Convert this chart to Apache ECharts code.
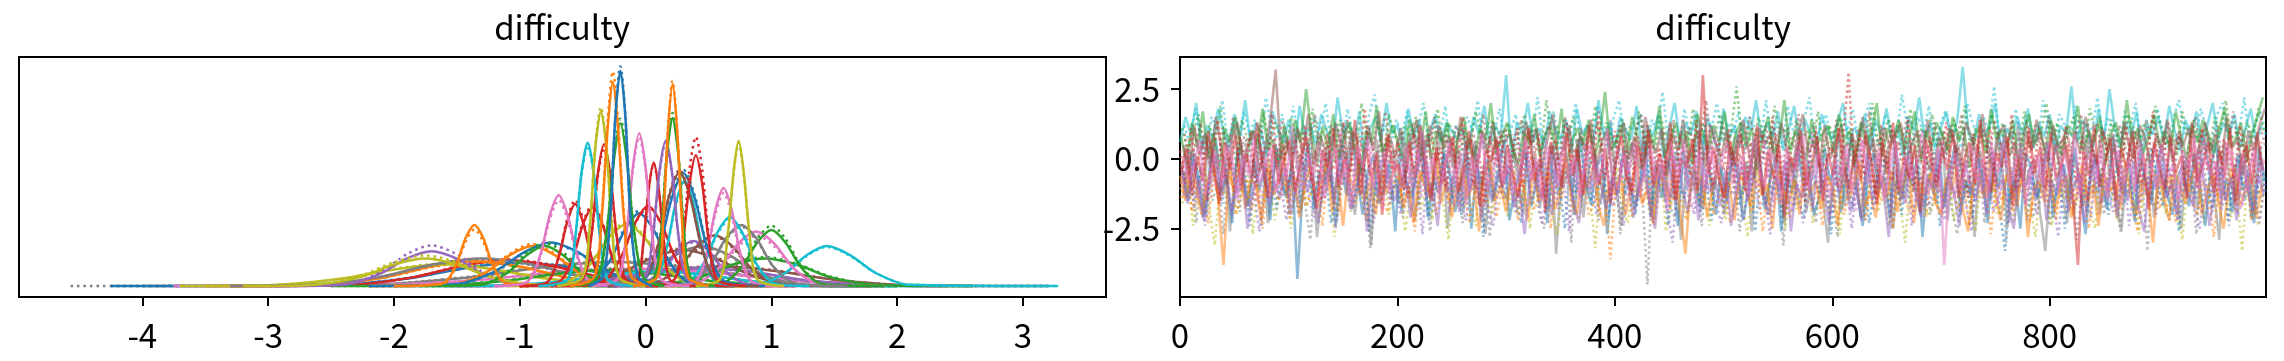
<!DOCTYPE html>
<html><head><meta charset="utf-8">
<script src="https://cdn.jsdelivr.net/npm/echarts@6/dist/echarts.min.js"></script>
<style>html,body{margin:0;padding:0;background:#fff}#c{width:2284px;height:361px}</style>
</head><body><div id="c"></div>
<script>
const panelTitle = 'difficulty';
const kdeTicks = [-4, -3, -2, -1, 0, 1, 2, 3];
const traceXTicks = [0, 200, 400, 600, 800];
const traceYTicks = [-2.5, 0, 2.5];
const palette = ['#1f77b4','#ff7f0e','#2ca02c','#d62728','#9467bd','#8c564b','#e377c2','#7f7f7f','#bcbd22','#17becf'];

// ---- left panel: per-coordinate KDE curves (x points, chain 0 solid, chain 1 dotted) ----
const kdeColor = [7,0,6,5,3,1,8,7,2,4,9, 5,7,4,8,1,0,2,2,9,4,5,6,2,7,9,8,0,3,1, 3,3,6,6,9,0,5,3,3,3,4,6,9,8,8,2,2,1,1,0];
const kdeX = [
[-4.57,-4.0,-2.25,-1.45,-0.81,-0.25,0.31,0.95,1.75,2.6],
[-4.25,-2.5,-1.9,-1.42,-1.0,-0.58,-0.1,0.5,2.0],
[-3.75,-2.225,-1.375,-0.695,-0.1,0.495,1.175,2.025,2.35],
[-1.6,-0.9,-0.3,0.18,0.6,1.02,1.5,2.1,3.2],
[-3.3,-2.35,-1.85,-1.45,-1.1,-0.75,-0.35,0.15,1.2],
[-3.5,-2.6,-2.1,-1.7,-1.35,-1.0,-0.6,-0.1,1.0],
[-3.7,-2.975,-2.425,-1.985,-1.6,-1.215,-0.775,-0.225,0.8],
[-3.3,-2.675,-2.125,-1.685,-1.3,-0.915,-0.475,0.075,1.0],
[-2.5,-1.675,-1.125,-0.685,-0.3,0.085,0.525,1.075,2.0],
[-1.5,-0.925,-0.375,0.065,0.45,0.835,1.275,1.825,2.4],
[-2.0,-1.15,-0.65,-0.25,0.1,0.45,0.85,1.35,2.2],
[-1.0,-0.575,-0.225,0.055,0.3,0.545,0.825,1.175,1.8],
[-0.6,-0.3,0.0,0.24,0.45,0.66,0.9,1.2,1.8],
[-3.0,-2.40,-2.12,-1.896,-1.70,-1.504,-1.28,-1.00,-0.6],
[-3.2,-2.625,-2.275,-1.995,-1.75,-1.505,-1.225,-0.875,-0.3],
[-2.2,-1.525,-1.275,-1.075,-0.9,-0.725,-0.525,-0.275,0.3],
[-2.2,-1.5,-1.2,-0.96,-0.75,-0.54,-0.3,0.0,0.6],
[-1.8,-1.3,-1.1,-0.94,-0.8,-0.66,-0.5,-0.3,0.2],
[-0.5,0.075,0.425,0.705,0.95,1.195,1.475,1.825,2.6],
[0.4,0.89,1.11,1.286,1.44,1.622,1.83,2.09,3.28],
[-0.4,-0.045,0.125,0.261,0.38,0.499,0.635,0.805,1.2],
[-0.3,0.05,0.25,0.41,0.55,0.69,0.85,1.05,1.5],
[-0.1,0.38,0.58,0.74,0.88,1.02,1.18,1.38,1.9],
[0.2,0.60,0.76,0.888,1.0,1.112,1.24,1.40,1.9],
[-0.1,0.335,0.505,0.641,0.76,0.879,1.015,1.185,1.6],
[0.0,0.32,0.46,0.572,0.67,0.768,0.88,1.02,1.3],
[-1.1,-0.65,-0.45,-0.29,-0.15,-0.01,0.15,0.35,0.8],
[-0.8,-0.45,-0.29,-0.162,-0.05,0.062,0.19,0.35,0.7],
[-0.7,-0.355,-0.205,-0.085,0.02,0.125,0.245,0.395,0.7],
[-2.0,-1.61,-1.51,-1.43,-1.36,-1.29,-1.21,-1.11,-0.7],
[-1.0,-0.695,-0.585,-0.497,-0.42,-0.343,-0.255,-0.145,0.1],
[-1.0,-0.785,-0.695,-0.623,-0.56,-0.497,-0.425,-0.335,-0.1],
[0.15,0.395,0.485,0.557,0.62,0.683,0.755,0.845,1.1],
[-1.2,-0.94,-0.84,-0.76,-0.69,-0.62,-0.54,-0.44,-0.15],
[-0.2,0.06,0.16,0.24,0.31,0.38,0.46,0.56,0.85],
[-0.3,-0.025,0.105,0.209,0.30,0.391,0.495,0.625,0.95],
[-0.3,-0.03,0.09,0.186,0.27,0.354,0.45,0.57,0.9],
[-0.25,-0.07,-0.02,0.025,0.065,0.105,0.15,0.2,0.4],
[0.0,0.225,0.295,0.35,0.40,0.45,0.505,0.575,0.8],
[-0.75,-0.505,-0.435,-0.38,-0.33,-0.28,-0.225,-0.155,0.05],
[-0.25,-0.015,0.055,0.11,0.16,0.21,0.265,0.335,0.55],
[-0.45,-0.225,-0.155,-0.10,-0.05,0.0,0.055,0.125,0.35],
[-0.85,-0.62,-0.56,-0.51,-0.46,-0.41,-0.36,-0.30,-0.1],
[0.4,0.59,0.65,0.70,0.74,0.78,0.83,0.89,1.1],
[-0.7,-0.505,-0.445,-0.40,-0.355,-0.31,-0.265,-0.205,0.0],
[-0.1,0.065,0.125,0.17,0.215,0.26,0.305,0.365,0.55],
[-0.6,-0.39,-0.31,-0.25,-0.20,-0.15,-0.09,-0.01,0.15],
[-0.1,0.09,0.14,0.18,0.215,0.25,0.29,0.34,0.5],
[-0.6,-0.41,-0.35,-0.30,-0.26,-0.22,-0.17,-0.11,0.05],
[-0.45,-0.34,-0.28,-0.24,-0.20,-0.16,-0.12,-0.06,0.05]
];
const kdeSolid = [
[null,0,0.015,0.11,0.26,0.33,0.26,0.11,0.015,0],
[0,0.014,0.10,0.25,0.32,0.25,0.10,0.014,0],
[0,0.011,0.078,0.19,0.24,0.19,0.078,0.011,0],
[0,0.012,0.088,0.21,0.27,0.21,0.088,0.012,0],
[0,0.016,0.12,0.28,0.36,0.28,0.12,0.016,0],
[0,0.015,0.11,0.27,0.34,0.27,0.11,0.015,0],
[0,0.013,0.10,0.23,0.30,0.23,0.10,0.013,0],
[0,0.017,0.12,0.30,0.38,0.30,0.12,0.017,0],
[0,0.01,0.07,0.17,0.22,0.17,0.07,0.01,0],
[0,0.011,0.08,0.2,0.25,0.2,0.08,0.011,0],
[0,0.009,0.065,0.16,0.2,0.16,0.065,0.009,0],
[0,0.02,0.16,0.39,0.5,0.39,0.16,0.02,0],
[0,0.024,0.18,0.43,0.55,0.43,0.18,0.024,0],
[0,0.02,0.16,0.38,0.48,0.38,0.16,0.02,0],
[0,0.02,0.12,0.30,0.38,0.30,0.12,0.02,0],
[0,0.02,0.18,0.43,0.55,0.43,0.18,0.02,0],
[0,0.03,0.20,0.47,0.60,0.47,0.20,0.03,0],
[0,0.02,0.18,0.43,0.55,0.43,0.18,0.02,0],
[0,0.02,0.12,0.30,0.38,0.30,0.12,0.02,0],
[0,0.02,0.18,0.43,0.55,0.43,0.18,0.02,0],
[0,0.03,0.20,0.49,0.62,0.49,0.20,0.03,0],
[0,0.03,0.23,0.55,0.70,0.55,0.23,0.03,0],
[0,0.03,0.24,0.59,0.75,0.59,0.24,0.03,0],
[0,0.03,0.25,0.60,0.77,0.60,0.25,0.03,0],
[0,0.04,0.27,0.66,0.84,0.66,0.27,0.04,0],
[0,0.04,0.31,0.74,0.95,0.74,0.31,0.04,0],
[0,0.04,0.28,0.67,0.85,0.67,0.28,0.04,0],
[0,0.04,0.33,0.78,1.0,0.78,0.33,0.04,0],
[0,0.05,0.36,0.86,1.10,0.86,0.36,0.05,0],
[0,0.04,0.27,0.66,0.84,0.66,0.27,0.04,0],
[0,0.05,0.35,0.85,1.08,0.85,0.35,0.05,0],
[0,0.05,0.37,0.88,1.13,0.88,0.37,0.05,0],
[0,0.06,0.44,1.06,1.35,1.06,0.44,0.06,0],
[0,0.06,0.41,0.98,1.25,0.98,0.41,0.06,0],
[0,0.06,0.47,1.14,1.45,1.14,0.47,0.06,0],
[0,0.07,0.50,1.21,1.55,1.21,0.50,0.07,0],
[0,0.07,0.51,1.23,1.57,1.23,0.51,0.07,0],
[0,0.07,0.55,1.33,1.70,1.33,0.55,0.07,0],
[0,0.08,0.59,1.41,1.80,1.41,0.59,0.08,0],
[0,0.09,0.63,1.53,1.95,1.53,0.63,0.09,0],
[0,0.09,0.65,1.57,2.0,1.57,0.65,0.09,0],
[0,0.09,0.68,1.64,2.1,1.64,0.68,0.09,0],
[0,0.09,0.64,1.54,1.97,1.54,0.64,0.09,0],
[0,0.09,0.65,1.57,2.0,1.57,0.65,0.09,0],
[0,0.11,0.78,1.88,2.40,1.88,0.78,0.11,0],
[0,0.10,0.75,1.81,2.31,1.81,0.75,0.10,0],
[0,0.10,0.73,1.75,2.24,1.75,0.73,0.10,0],
[0,0.12,0.90,2.18,2.78,2.18,0.90,0.12,0],
[0,0.12,0.91,2.19,2.8,2.19,0.91,0.12,0],
[0,0.13,0.96,2.32,2.96,2.32,0.96,0.13,0]
];
const kdeDotted = [
[0,0.002,0.016,0.12,0.27,0.34,0.27,0.12,0.016,0],
[0,0.015,0.11,0.26,0.33,0.26,0.11,0.015,0],
[0,0.011,0.08,0.2,0.25,0.2,0.08,0.011,0],
[0,0.012,0.09,0.22,0.28,0.22,0.09,0.012,0],
[0,0.016,0.12,0.29,0.37,0.29,0.12,0.016,0],
[0,0.015,0.11,0.26,0.33,0.26,0.11,0.015,0],
[0,0.014,0.10,0.24,0.31,0.24,0.10,0.014,0],
[0,0.017,0.12,0.29,0.37,0.29,0.12,0.017,0],
[0,0.01,0.075,0.18,0.23,0.18,0.075,0.01,0],
[0,0.011,0.078,0.19,0.24,0.19,0.078,0.011,0],
[0,0.009,0.068,0.16,0.21,0.16,0.068,0.009,0],
[0,0.02,0.17,0.41,0.52,0.41,0.17,0.02,0],
[0,0.023,0.17,0.42,0.53,0.42,0.17,0.023,0],
[0,0.02,0.18,0.44,0.56,0.44,0.18,0.02,0],
[0,0.02,0.14,0.33,0.42,0.33,0.14,0.02,0],
[0,0.03,0.19,0.45,0.58,0.45,0.19,0.03,0],
[0,0.03,0.19,0.46,0.58,0.46,0.19,0.03,0],
[0,0.03,0.20,0.47,0.60,0.47,0.20,0.03,0],
[0,0.02,0.13,0.31,0.40,0.31,0.13,0.02,0],
[0,0.02,0.18,0.42,0.54,0.42,0.18,0.02,0],
[0,0.03,0.20,0.47,0.60,0.47,0.20,0.03,0],
[0,0.03,0.22,0.53,0.68,0.53,0.22,0.03,0],
[0,0.03,0.23,0.55,0.70,0.55,0.23,0.03,0],
[0,0.04,0.27,0.65,0.83,0.65,0.27,0.04,0],
[0,0.04,0.27,0.64,0.82,0.64,0.27,0.04,0],
[0,0.04,0.30,0.72,0.92,0.72,0.30,0.04,0],
[0,0.04,0.29,0.69,0.88,0.69,0.29,0.04,0],
[0,0.05,0.34,0.81,1.04,0.81,0.34,0.05,0],
[0,0.05,0.35,0.85,1.08,0.85,0.35,0.05,0],
[0,0.03,0.25,0.61,0.78,0.61,0.25,0.03,0],
[0,0.05,0.36,0.88,1.12,0.88,0.36,0.05,0],
[0,0.05,0.38,0.92,1.18,0.92,0.38,0.05,0],
[0,0.06,0.42,1.00,1.28,1.00,0.42,0.06,0],
[0,0.05,0.38,0.92,1.18,0.92,0.38,0.05,0],
[0,0.06,0.46,1.11,1.42,1.11,0.46,0.06,0],
[0,0.07,0.52,1.25,1.60,1.25,0.52,0.07,0],
[0,0.07,0.52,1.25,1.60,1.25,0.52,0.07,0],
[0,0.07,0.55,1.32,1.68,1.32,0.55,0.07,0],
[0,0.09,0.67,1.61,2.05,1.61,0.67,0.09,0],
[0,0.08,0.62,1.49,1.90,1.49,0.62,0.08,0],
[0,0.09,0.64,1.54,1.97,1.54,0.64,0.09,0],
[0,0.09,0.67,1.61,2.05,1.61,0.67,0.09,0],
[0,0.08,0.63,1.51,1.93,1.51,0.63,0.08,0],
[0,0.09,0.64,1.54,1.97,1.54,0.64,0.09,0],
[0,0.11,0.80,1.93,2.46,1.93,0.80,0.11,0],
[0,0.10,0.77,1.86,2.38,1.86,0.77,0.10,0],
[0,0.10,0.75,1.80,2.30,1.80,0.75,0.10,0],
[0,0.12,0.92,2.21,2.82,2.21,0.92,0.12,0],
[0,0.13,0.96,2.31,2.95,2.31,0.96,0.13,0],
[0,0.13,0.98,2.36,3.02,2.36,0.98,0.13,0]
];

// ---- right panel: draws (every 5th draw shown per chain) ----
const traceStep = 5;
const traceGreyDotted = [-1.1,0.4,-0.6,-2.3,-0.2,0.9,-1.5,-0.8,-2.7,0.1,-0.4,-1.9,0.6,-1.0,-0.3,-2.4,0.3,-1.3,-0.7,1.0,
-2.0,-0.5,0.2,-1.6,-2.9,-0.1,0.7,-1.2,-0.6,-2.2,0.5,-0.9,-1.8,0.0,-0.4,-3.2,-1.1,0.8,-0.7,-1.5,
0.3,-2.1,-0.8,-0.2,-1.7,0.6,-2.6,-0.5,-1.0,1.1,-1.4,-0.3,-2.3,0.2,-0.9,-1.6,-0.1,-2.8,0.4,-1.2,
-0.6,0.9,-2.0,-1.3,-0.4,0.1,-1.9,-2.5,0.5,-0.8,-1.1,-0.2,-3.0,0.7,-1.5,-0.5,0.2,-2.2,-0.9,-1.4,
0.0,-2.7,-0.6,0.6,-1.7,-1.0,-4.5,-0.3,-0.8,0.3,-1.6,-2.1,-0.2,0.8,-1.2,-0.7,-2.4,0.1,-1.3,-0.4,
-1.9,0.4,-0.9,-2.6,-0.1,-1.4,0.9,-0.6,-2.0,-1.1,0.2,-3.1,-0.5,-1.7,0.6,-0.8,-1.2,-2.3,0.0,-0.4,
-1.5,-2.8,0.5,-0.7,-1.0,0.1,-2.2,-0.3,-1.6,0.8,-0.9,-2.5,-0.2,0.3,-1.3,-1.9,-0.6,1.0,-2.0,-1.1,
-0.3,0.6,-1.8,-2.7,-0.5,-0.1,-1.4,0.4,-2.3,-0.8,-1.2,0.2,-3.0,-0.6,-1.7,0.7,-0.4,-2.1,-1.0,0.0,
-2.4,-0.7,0.5,-1.5,-0.2,-2.9,-0.9,0.9,-1.3,-0.5,-2.0,0.1,-1.1,-2.6,-0.3,0.6,-1.8,-0.8,-3.3,-0.1,
0.3,-1.6,-2.2,-0.4,0.8,-1.2,-0.6,-2.7,0.0,-1.0,-1.9,0.4,-0.7,-2.4,-0.2,-1.4,0.5,-2.1,-0.9,-1.5];
const traceGreySolid = [-0.2,-1.4,0.3,-0.9,-2.1,0.8,-0.5,-1.1,0.1,-2.6,-0.3,0.6,-1.7,-0.8,0.9,-0.1,-2.3,-0.6,0.4,-1.3,
-0.7,1.1,-1.9,-0.4,0.2,-2.8,-0.9,0.5,-1.5,-0.2,1.3,-1.0,-2.0,0.0,-0.6,-3.1,0.7,-1.2,-0.3,0.3,
-1.6,-0.5,0.9,-2.2,-0.8,0.1,-1.4,-0.1,1.0,-2.5,-0.7,0.4,-1.8,-0.4,0.6,-1.1,-2.7,-0.2,0.8,-0.9,
-1.5,0.2,-0.6,-2.0,1.2,-0.3,-1.7,-0.9,0.5,-3.4,-0.5,0.0,-1.2,0.7,-2.1,-0.4,0.3,-1.6,-0.8,1.4,
-1.0,-2.4,-0.1,0.6,-1.3,-0.6,0.9,-2.2,-0.2,-1.5,0.4,-0.9,-2.9,0.1,-0.7,1.0,-1.8,-0.3,-1.1,0.2,
-2.0,-0.5,0.8,-1.4,-0.1,-2.6,0.3,-0.8,-1.6,1.1,-0.4,-2.3,0.0,-1.0,0.6,-1.9,-0.6,0.5,-1.2,-3.0,
-0.2,0.9,-1.7,-0.7,0.2,-2.1,-0.4,1.2,-1.3,-0.9,0.4,-2.5,-0.1,-1.4,0.7,-0.8,-2.0,0.1,-0.5,-1.6,
1.0,-2.2,-0.3,0.5,-1.1,-0.6,-2.8,0.3,-0.9,-1.5,0.8,-0.2,-2.4,-0.7,1.3,-1.2,-0.4,0.0,-1.9,-3.3,
-0.6,0.6,-1.0,-2.3,0.2,-0.5,-1.7,0.9,-0.8,-2.0,-0.1,0.4,-1.4,-2.6,-0.3,1.1,-1.1,-0.7,0.3,-2.1,
-0.4,-1.3,0.7,-0.9,-2.5,0.0,-0.6,-1.8,1.0,-0.2,-1.2,-2.9,0.5,-0.8,-1.5,0.2,-0.4,-2.2,0.8,-1.0];
const traceOliveDotted = [-1.6,-0.5,-2.4,-1.0,-0.2,-1.8,-3.1,-0.8,-1.3,-0.4,-2.0,-1.1,-0.6,-2.7,-0.9,-1.5,0.0,-2.2,-1.2,-0.7,
-2.5,-1.0,-0.3,-1.7,-0.8,-2.1,-1.4,-0.1,-2.8,-1.1,-0.6,-1.9,-0.4,-1.3,-2.3,-0.9,-1.6,-0.2,-2.0,-1.2,
-0.7,-2.6,-1.3,-0.5,-1.8,-1.0,-2.2,-0.3,-1.5,-2.9,-0.8,-1.1,-0.1,-1.7,-2.4,-0.6,-1.4,-2.0,-0.9,-1.2,
-2.1,-0.4,-1.6,-1.0,-2.5,-0.7,-1.3,-0.2,-1.9,-2.7,-1.1,-0.5,-1.5,-2.2,-0.8,-1.2,-3.2,-0.6,-1.7,-1.0,
-0.3,-1.8,-2.3,-0.9,-1.4,-0.6,-2.0,-1.1,-0.2,-2.6,-1.5,-0.8,-1.2,-2.1,-0.4,-1.7,-1.0,-2.4,-0.7,-1.3,
-2.2,-0.5,-1.6,-1.1,-2.8,-0.9,-0.3,-1.4,-2.0,-0.7,-1.2,-2.5,-0.1,-1.8,-1.0,-0.6,-2.3,-1.5,-0.8,-1.9,
-1.1,-2.7,-0.4,-1.3,-0.9,-2.1,-1.6,-0.2,-1.9,-1.0,-2.4,-0.6,-1.4,-3.0,-0.8,-1.2,-0.5,-2.0,-1.7,-0.9,
-1.5,-0.3,-2.2,-1.1,-0.7,-1.8,-2.6,-0.4,-1.3,-0.9,-2.0,-1.6,-0.1,-2.3,-1.0,-0.6,-1.7,-2.8,-0.8,-1.2,
-2.4,-0.9,-1.4,-0.5,-2.1,-1.2,-0.7,-1.9,-2.5,-0.3,-1.5,-1.0,-2.2,-0.6,-1.3,-0.8,-2.7,-1.1,-0.4,-1.8,
-1.0,-2.0,-0.6,-1.6,-2.9,-0.8,-1.2,-0.2,-2.3,-1.4,-0.9,-1.7,-0.5,-2.1,-1.1,-3.3,-0.7,-1.5,-2.4,-1.0];
const traceBlueSolid = [-0.4,-1.5,0.2,-0.9,-2.0,-0.1,0.7,-1.2,-0.6,-2.3,0.4,-0.8,-1.7,0.0,-1.1,-0.3,-2.2,0.5,-0.7,-1.4,
-0.2,-4.3,-1.0,0.6,-1.8,-0.5,-0.9,0.3,-2.4,-0.1,-1.3,0.8,-0.6,-2.0,-0.4,0.1,-1.6,-1.1,-0.2,-2.6,
0.4,-0.8,-1.4,-0.3,0.9,-2.1,-0.7,-1.2,0.2,-0.5,-1.9,-0.9,0.6,-2.5,-0.2,-1.0,0.0,-1.5,-0.6,0.7,
-2.2,-1.1,-0.4,0.3,-1.7,-0.8,-0.1,-2.3,0.5,-1.3,-0.6,-0.2,-2.0,0.8,-0.9,-1.6,-0.3,0.1,-2.7,-0.7,
-1.2,0.4,-0.5,-1.8,-0.9,0.6,-2.1,-0.2,-1.4,0.0,-0.7,-2.4,0.3,-1.0,-0.4,-1.7,0.9,-0.8,-2.0,-0.3,
-1.5,0.2,-0.6,-2.2,-1.1,0.7,-0.3,-1.8,-0.7,0.1,-2.6,-0.5,-1.2,0.5,-0.9,-0.1,-2.0,-1.4,0.4,-0.8,
-0.2,-1.9,-0.6,0.8,-1.3,-2.4,-0.4,0.2,-1.0,-0.7,-2.1,0.6,-1.5,-0.3,-0.9,0.0,-2.8,-0.6,-1.2,0.3,
-1.7,-0.4,0.5,-2.0,-0.8,-1.3,0.1,-0.5,-2.3,-0.1,-1.0,0.7,-1.6,-0.7,-2.5,0.2,-0.3,-1.4,-0.9,0.6,
-2.1,-0.6,-0.2,-1.5,0.4,-1.1,-2.7,-0.4,0.0,-0.9,-1.8,0.8,-0.5,-1.3,-0.1,-2.2,0.3,-0.8,-1.6,-0.3,
0.5,-1.2,-2.0,-0.6,-0.2,-1.7,0.2,-0.9,-2.4,-0.4,0.6,-1.4,-0.7,-1.9,0.1,-1.1,-0.5,-2.3,0.4,-0.8];
const traceBlueDotted = [-0.8,0.3,-1.4,-0.3,-2.1,0.1,-0.9,-1.6,0.5,-0.6,-1.2,-0.1,-2.4,-0.7,0.6,-1.0,-0.4,-1.8,0.2,-1.3,
-0.5,-2.0,0.4,-0.9,-1.5,0.0,-0.6,-2.3,-1.1,0.7,-0.3,-1.7,-0.8,0.2,-2.6,-1.2,-0.2,0.5,-1.4,-0.7,
-1.9,-0.1,-1.0,0.8,-0.5,-2.2,-1.3,-0.4,0.3,-1.6,-0.8,-2.0,0.1,-1.1,-0.6,-2.8,-0.2,-1.4,0.6,-0.9,
-0.3,-1.5,-2.3,0.2,-0.7,-1.1,0.5,-1.8,-0.4,-0.9,-2.5,0.0,-1.2,-0.6,0.7,-1.7,-1.0,-0.1,-2.1,-0.5,
0.4,-1.3,-0.7,-2.0,-0.2,0.6,-1.6,-0.9,-0.4,-2.4,0.1,-1.0,-1.4,-0.3,0.5,-1.9,-0.8,-2.2,-0.1,-1.2,
-0.6,0.3,-1.7,-1.0,-0.2,-2.6,-0.5,0.8,-1.3,-0.8,-1.9,0.0,-0.4,-1.5,-2.1,0.4,-0.9,-1.2,-0.3,-2.7,
0.2,-1.1,-0.6,-1.8,0.5,-0.3,-2.3,-1.0,-0.5,0.1,-1.5,-0.8,-2.0,0.6,-1.2,-0.2,-1.7,-0.7,0.3,-2.4,
-1.0,-0.4,0.4,-1.6,-0.9,-2.1,-0.1,-1.3,0.7,-0.6,-1.8,-3.3,-0.3,-1.1,0.2,-2.2,-0.7,-1.4,-0.2,0.5,
-1.5,-0.8,-2.5,0.0,-1.0,-0.5,-1.9,0.6,-1.2,-0.3,-2.0,-0.9,0.3,-1.6,-0.6,-2.3,-0.1,-1.3,0.4,-0.8,
-1.7,-0.2,-1.1,-2.6,0.1,-0.7,-1.4,-0.4,0.6,-1.8,-1.0,-0.3,-2.2,-0.6,0.2,-1.5,-0.9,-2.0,-0.1,-1.2];
const traceOrangeSolid = [-0.6,-1.5,-0.3,-1.1,-2.0,-0.8,-0.2,-1.4,-3.8,-0.5,-1.2,-0.1,-1.8,-0.7,-1.0,-2.2,-0.4,-1.3,-0.9,0.1,
-1.6,-0.6,-2.1,-0.9,-0.3,-1.4,-1.0,-0.1,-1.9,-0.7,-2.4,-0.5,-1.1,0.0,-1.5,-0.8,-2.0,-0.4,-1.2,-0.6,
-0.2,-1.7,-1.0,-2.3,-0.5,-0.9,-1.3,0.2,-1.6,-0.7,-2.1,-1.1,-0.3,-1.4,-0.8,-2.6,-0.6,-0.1,-1.5,-1.0,
-1.9,-0.4,-1.2,-0.7,-2.2,-0.2,-1.5,-0.9,-0.5,-1.8,-1.1,0.1,-1.4,-2.0,-0.6,-1.0,-0.3,-1.7,-2.4,-0.8,
-1.3,-0.5,-2.0,-0.9,-0.1,-1.6,-1.1,-2.3,-0.4,-0.8,-1.5,-0.2,-1.9,-3.4,-0.7,-1.2,-0.6,-2.1,-1.0,-0.3,
-1.4,-0.8,-2.2,-0.5,-1.0,-1.7,0.0,-1.3,-0.9,-2.5,-0.4,-1.1,-1.6,-0.7,-2.0,-0.2,-1.2,-0.8,-1.8,-0.6,
-1.0,-2.4,-0.3,-1.5,-0.9,-0.1,-1.7,-1.2,-2.1,-0.6,-1.4,-0.4,-1.9,-1.0,-0.2,-2.3,-0.8,-1.3,-0.5,-1.6,
-2.0,-0.7,-1.1,-0.3,-1.8,-2.6,-0.9,-0.5,-1.4,0.0,-1.2,-2.2,-0.6,-1.0,-1.7,-0.4,-2.8,-1.1,-0.8,-1.5,
-0.3,-1.9,-1.0,-0.6,-2.1,-1.3,-0.2,-1.6,-0.9,-2.4,-0.5,-1.2,-0.8,-1.8,-0.1,-1.4,-2.0,-0.7,-1.1,-3.0,
-0.6,-1.3,-2.2,-0.4,-1.0,-1.6,-0.8,-0.2,-2.0,-1.2,-0.5,-1.5,-2.5,-0.9,-0.3,-1.7,-1.1,-0.6,-2.1,-1.0];
const traceOrangeDotted = [-1.4,-0.5,-1.9,-0.8,-1.2,-2.3,-0.4,-1.6,-1.0,-0.2,-2.0,-1.3,-0.7,-1.8,-0.9,-2.5,-0.3,-1.1,-1.5,-0.6,
-2.1,-1.0,-0.4,-1.7,-1.2,-0.8,-2.4,-0.5,-1.4,-1.9,-0.1,-1.1,-1.6,-0.7,-2.2,-1.0,-0.3,-1.5,-1.9,-0.9,
-0.6,-1.8,-1.1,-2.6,-0.4,-1.3,-0.9,-2.0,-0.2,-1.5,-1.0,-1.7,-0.6,-2.3,-1.2,-0.8,-1.6,-0.3,-2.1,-1.1,
-1.5,-0.7,-2.2,-1.0,-0.3,-1.8,-1.3,-0.6,-2.5,-0.9,-1.4,-0.2,-1.9,-1.1,-0.5,-2.0,-1.6,-0.8,-1.2,-3.6,
-0.8,-1.3,-0.4,-2.1,-1.0,-1.6,-0.6,-2.4,-1.2,-0.3,-1.8,-0.9,-1.5,-2.2,-0.5,-1.1,-1.7,-0.2,-2.0,-1.3,
-0.9,-2.3,-1.4,-0.5,-1.1,-1.9,-0.7,-2.6,-1.0,-0.4,-1.6,-1.2,-2.1,-0.8,-1.4,-0.1,-1.8,-1.0,-2.4,-0.6,
-1.3,-0.8,-2.0,-1.1,-0.3,-1.7,-2.2,-0.6,-1.2,-1.5,-0.4,-2.5,-0.9,-1.3,-1.9,-0.7,-1.1,-2.1,-0.5,-1.6,
-2.0,-0.6,-1.2,-1.8,-0.9,-2.4,-0.2,-1.4,-1.0,-2.7,-0.7,-1.5,-0.4,-1.9,-1.1,-0.8,-2.3,-1.3,-0.5,-1.7,
-1.0,-2.2,-0.6,-1.4,-1.9,-0.3,-1.2,-2.5,-0.8,-1.6,-1.0,-0.5,-2.0,-1.3,-0.7,-1.8,-2.6,-0.9,-1.4,-0.4,
-1.8,-1.1,-0.6,-2.3,-1.0,-0.4,-1.5,-2.0,-0.8,-1.2,-2.8,-0.7,-1.4,-0.3,-1.9,-1.1,-0.6,-2.2,-1.3,-0.9];
const tracePurpleSolid = [-0.5,-1.6,-0.1,-1.0,-2.2,-0.7,0.2,-1.3,-0.4,-1.9,-0.9,-0.2,-2.5,-1.1,-0.6,0.3,-1.7,-0.8,-1.4,-0.3,
-2.0,-0.9,0.1,-1.2,-0.5,-2.3,-1.0,-0.3,-1.6,0.4,-0.7,-1.8,-1.1,-0.2,-2.6,-0.8,-1.3,0.0,-0.6,-1.5,
-1.0,-0.4,-2.1,-0.7,0.3,-1.4,-0.9,-2.4,-0.1,-1.2,-0.6,-1.9,-0.3,-1.1,0.5,-2.2,-0.8,-1.5,-0.5,-1.0,
-0.2,-1.7,-1.1,-2.7,-0.6,-0.1,-1.4,-0.8,-2.0,0.2,-1.0,-0.5,-1.6,-2.3,-0.4,-1.2,0.1,-0.9,-1.8,-0.7,
-1.3,0.0,-0.8,-2.1,-1.1,-0.4,-1.6,-2.5,-0.2,-0.9,-1.4,0.3,-1.0,-1.9,-0.6,-2.2,-0.3,-1.2,-0.7,-1.7,
-0.4,-2.4,-1.0,-0.2,-1.5,-0.8,0.4,-1.3,-2.0,-0.6,-1.1,-0.1,-2.6,-0.9,-1.4,-0.5,-1.8,0.1,-1.0,-2.3,
-0.7,-1.2,-0.3,-1.9,-0.9,-2.2,0.2,-1.5,-0.6,-1.1,-2.8,-0.4,-0.9,-1.6,0.0,-1.3,-2.1,-0.7,-1.0,-0.2,
-1.8,-0.5,-1.2,-2.4,-0.1,-0.9,-1.5,-0.4,-2.0,0.3,-1.1,-0.7,-1.7,-2.5,-0.3,-1.0,-0.6,-1.4,0.1,-2.2,
-0.8,-1.3,-0.2,-1.9,-1.0,-0.5,-2.3,-0.8,0.2,-1.6,-1.2,-0.4,-2.1,-0.7,-1.5,-0.1,-1.8,-2.6,-0.6,-1.1,
0.0,-1.4,-0.9,-2.0,-0.5,-1.2,-1.7,0.4,-0.8,-2.4,-1.0,-0.3,-1.5,-0.7,-2.2,-0.1,-1.1,-1.9,-0.6,-1.3];
const tracePurpleDotted = [-1.3,-0.2,-1.8,-0.7,-2.4,-1.0,0.1,-1.5,-0.6,-2.0,-0.9,-0.3,-1.7,-1.1,-2.6,-0.5,-1.4,0.0,-1.0,-2.2,
-0.6,-1.6,-0.1,-1.2,-2.1,-0.8,-1.4,-0.3,-2.5,-1.0,-0.5,-1.8,0.2,-1.3,-0.7,-2.3,-1.1,-0.4,-1.6,-0.9,
-2.0,-0.4,-1.2,-0.8,-2.7,-0.2,-1.5,-1.0,-0.6,-1.9,0.0,-1.3,-2.2,-0.7,-1.1,-0.3,-1.7,-2.4,-0.9,-1.4,
-0.5,-1.9,-1.0,0.1,-1.6,-0.7,-2.3,-1.2,-0.4,-1.8,-0.9,-2.6,-0.2,-1.4,-1.0,-0.6,-2.0,-1.3,-0.1,-1.7,
-1.1,-2.4,-0.5,-1.5,-0.8,-0.1,-2.1,-1.2,-0.6,-1.7,-3.0,-0.9,-0.3,-1.4,-2.0,-0.7,-1.1,0.0,-1.6,-2.3,
-0.8,-1.3,-0.2,-2.2,-1.0,-0.5,-1.8,-1.4,-2.7,-0.6,-1.1,-0.1,-1.9,-0.9,-2.3,-1.5,-0.4,-1.2,-0.7,-2.0,
-1.6,-0.3,-1.0,-2.5,-0.7,-1.4,0.1,-1.8,-1.1,-0.5,-2.1,-0.9,-1.5,-0.2,-2.4,-1.0,-0.6,-1.7,-1.2,-0.4,
-2.2,-0.9,-1.3,-0.1,-1.7,-2.6,-0.6,-1.1,-0.3,-1.9,-1.4,-0.8,-2.3,-0.5,-1.0,-1.6,-0.2,-2.0,-1.2,-0.7,
-1.5,-2.8,-0.4,-1.0,-1.8,-0.6,-1.3,-2.1,0.0,-1.1,-0.7,-1.9,-1.4,-0.3,-2.4,-0.9,-1.6,-0.5,-1.2,-2.0,
-0.2,-1.4,-0.8,-2.2,-1.0,-0.4,-1.7,-2.5,-0.9,-1.3,-0.1,-1.8,-1.1,-0.6,-2.0,-1.5,-0.3,-1.2,-2.3,-0.8];
const traceCyanDotted = [1.2,0.5,1.8,0.8,0.2,1.5,1.0,2.1,0.6,1.3,0.1,1.7,0.9,1.4,0.4,2.2,1.1,0.7,1.6,0.3,
1.9,0.8,1.2,0.0,1.5,1.0,2.0,0.6,1.3,0.4,1.8,0.9,1.1,0.2,1.6,2.3,0.7,1.2,0.5,1.4,
0.9,1.7,0.3,1.1,2.0,0.6,1.4,0.8,1.9,0.2,1.2,0.7,1.5,1.0,2.1,0.4,1.3,0.9,1.8,0.5,
1.0,1.6,0.1,1.3,0.8,2.2,0.6,1.1,1.7,0.3,1.4,0.9,2.0,0.5,1.2,0.7,1.9,1.0,0.4,1.5,
2.1,0.6,1.2,0.9,1.6,0.2,1.4,1.0,2.4,0.7,1.1,0.4,1.8,0.8,1.3,0.0,1.6,1.1,2.0,0.6,
1.3,0.9,1.7,0.3,1.5,1.1,0.6,2.1,0.8,1.2,0.4,1.9,1.0,0.7,1.4,2.2,0.5,1.1,1.6,0.8,
0.2,1.4,1.0,1.8,0.6,1.3,2.0,0.9,0.4,1.6,1.1,0.7,2.3,1.2,0.5,1.5,0.9,1.9,0.3,1.2,
1.7,0.8,1.1,0.4,2.0,1.3,0.7,1.5,1.0,2.6,0.6,1.2,0.9,1.8,0.2,1.4,1.0,0.6,2.1,1.1,
0.5,1.6,1.2,0.8,1.9,0.3,1.3,1.0,2.2,0.7,1.5,0.9,0.4,1.7,1.1,2.0,0.6,1.4,0.8,1.8,
1.0,0.4,1.5,2.1,0.9,1.2,0.6,1.8,1.1,0.3,1.6,2.0,0.7,1.3,0.9,2.2,0.5,1.2,1.7,0.8];
const traceCyanSolid = [0.6,1.5,0.9,2.0,0.3,1.2,0.7,1.8,1.0,0.4,1.6,0.8,2.1,0.5,1.3,0.9,0.1,1.7,1.1,0.6,
1.4,0.2,1.9,0.8,1.2,0.5,1.6,1.0,0.3,2.2,0.9,1.3,0.6,1.7,0.0,1.1,1.5,0.7,2.0,0.9,
1.2,0.4,1.8,0.8,1.4,0.2,1.0,1.6,0.6,1.3,1.0,0.7,1.1,0.3,1.5,0.9,1.9,0.5,1.2,0.8,
3.0,0.1,1.3,0.9,2.0,0.6,1.1,0.4,1.7,1.0,0.7,1.4,0.2,1.8,0.9,1.2,0.5,2.1,0.8,1.3,
0.4,1.5,1.0,0.7,1.9,0.3,1.2,0.8,1.6,0.0,1.1,2.0,0.6,1.3,0.9,1.7,0.5,1.4,1.0,0.2,
1.8,0.7,1.2,0.4,1.5,1.0,2.1,0.6,1.3,0.8,1.7,0.3,1.1,1.9,0.5,1.4,0.9,0.2,1.6,1.0,
0.7,1.3,2.0,0.5,1.1,0.8,1.6,0.3,1.4,0.9,1.8,0.6,1.2,0.1,1.5,1.0,2.2,0.7,1.3,0.4,
1.1,1.7,0.6,1.4,3.3,1.0,0.5,1.6,0.8,1.2,2.0,0.3,1.1,0.7,1.5,0.9,1.8,0.4,1.3,0.8,
1.6,0.2,1.2,0.9,2.6,0.6,1.4,1.0,0.4,1.8,0.7,2.5,1.1,0.5,1.3,0.8,1.7,0.1,1.2,0.9,
1.5,0.6,1.9,1.0,0.3,1.4,0.8,1.7,0.5,1.2,2.0,0.7,1.3,0.9,1.6,0.4,1.1,1.8,0.6,1.2];
const traceGreenSolid = [0.8,-0.2,1.3,0.4,1.7,0.0,0.9,-0.4,1.1,0.6,1.5,0.2,-0.1,1.0,0.5,1.8,0.3,0.7,-0.3,1.2,
0.1,1.4,0.6,2.5,0.9,-0.2,1.1,0.4,1.6,0.0,0.8,1.3,0.3,-0.5,1.0,0.6,1.9,0.2,0.7,1.2,
0.5,-0.1,1.4,0.8,0.3,1.7,0.0,1.0,0.6,1.3,-0.3,0.9,1.5,0.4,0.1,1.1,0.7,2.0,0.2,0.8,
1.3,0.4,-0.2,1.0,0.6,1.6,0.1,0.9,1.2,0.3,1.8,-0.1,0.7,1.1,0.5,1.4,0.0,0.8,2.4,0.3,
0.6,1.2,0.2,1.5,0.8,-0.3,1.0,0.5,1.9,0.1,0.7,1.3,0.4,1.0,-0.2,1.6,0.9,0.3,1.2,0.6,
1.7,0.0,0.9,1.3,0.4,1.1,-0.4,0.8,1.5,0.2,0.6,2.1,0.3,1.0,0.7,-0.1,1.4,0.5,0.9,1.2,
0.2,1.6,0.7,1.0,-0.2,1.3,0.5,0.9,2.0,0.1,1.1,0.6,1.4,0.3,0.8,1.7,-0.1,1.0,0.4,1.3,
0.9,0.3,1.5,0.6,1.1,-0.3,0.8,1.2,0.2,1.8,0.7,1.0,0.4,1.4,0.0,0.9,1.6,0.5,1.1,0.2,
1.4,0.7,0.1,1.2,0.8,1.9,0.3,1.0,0.6,1.5,-0.2,0.9,1.3,0.4,2.1,0.6,1.1,0.2,0.8,1.6,
0.5,1.0,0.3,1.7,0.8,0.0,1.2,0.6,1.4,0.9,0.2,1.1,1.8,0.4,0.7,1.3,-0.1,0.9,1.5,2.2];
const traceGreenDotted = [1.1,0.3,0.8,1.6,0.0,1.2,0.6,1.9,0.4,0.9,-0.2,1.4,0.7,1.0,0.2,1.7,0.5,1.3,0.8,0.1,
1.5,0.6,1.0,0.2,1.8,0.4,1.2,0.9,-0.1,1.4,0.7,1.1,0.3,2.0,0.8,0.5,1.3,0.0,1.6,0.9,
0.4,1.2,0.7,1.5,0.1,1.0,0.6,1.8,0.3,1.3,0.9,-0.2,1.1,0.5,1.7,0.8,0.2,1.4,1.0,0.6,
1.3,0.0,0.9,1.6,0.5,1.1,0.3,2.1,0.7,1.2,0.4,0.8,1.5,-0.1,1.0,0.6,1.9,0.2,1.3,0.8,
0.5,1.4,0.9,0.1,1.7,0.6,1.1,0.3,1.5,0.8,1.2,-0.2,1.0,0.4,1.8,0.7,1.3,0.2,0.9,1.6,
0.3,1.0,2.6,0.6,1.2,0.0,1.5,0.8,0.4,1.9,0.9,1.1,0.2,1.4,0.7,1.0,0.5,1.7,0.1,1.2,
0.8,1.5,0.4,1.1,-0.1,1.3,0.7,2.0,0.5,0.9,1.4,0.3,1.2,0.6,1.8,0.0,1.1,0.8,1.6,0.4,
1.0,0.2,1.4,0.7,1.9,0.5,1.1,0.9,0.3,1.6,0.8,1.3,-0.1,1.0,0.6,1.7,0.4,1.2,0.9,2.0,
0.6,1.3,0.1,1.0,1.5,0.7,0.3,1.8,0.9,1.2,0.5,1.4,0.8,0.0,1.6,1.1,0.4,1.3,0.7,1.9,
1.2,0.5,1.0,0.2,1.7,0.8,1.4,0.6,1.1,0.3,1.5,0.9,2.1,0.7,1.0,0.4,1.3,0.8,1.8,1.0];
const traceBrownSolid = [0.5,-0.6,1.2,0.1,0.9,-0.3,1.5,0.4,-0.9,0.8,1.3,-0.1,0.6,1.0,-0.5,0.3,1.4,3.2,0.0,0.7,
-0.4,1.1,0.2,1.6,-0.2,0.9,0.4,-0.8,1.3,0.5,-0.1,1.0,0.7,-0.6,1.2,0.3,1.7,-0.3,0.8,0.1,
1.1,-0.5,0.6,1.4,0.0,0.9,-0.7,1.2,0.4,0.8,-0.2,1.5,0.3,0.7,-0.4,1.0,0.2,1.3,-0.1,0.6,
0.9,0.2,-0.6,1.3,0.5,1.1,-0.3,0.7,1.6,0.0,0.4,1.2,-0.5,0.8,0.3,1.4,-0.2,0.6,1.0,-0.8,
0.4,1.3,0.0,0.8,-0.4,1.5,0.6,0.2,1.1,-0.6,0.9,0.3,1.4,-0.1,0.7,1.0,-0.3,1.2,0.5,0.1,
1.0,-0.2,0.7,1.4,0.3,-0.7,1.1,0.5,0.9,-0.1,1.3,0.4,-0.5,0.8,1.6,0.2,0.6,-0.3,1.2,0.0,
0.6,1.2,-0.4,0.9,0.3,1.5,0.1,0.7,-0.6,1.1,0.4,0.8,1.3,-0.2,0.5,1.0,0.0,1.4,-0.5,0.7,
0.2,1.1,0.5,-0.3,1.3,0.8,0.0,1.6,0.4,-0.4,0.9,1.2,0.1,0.6,-0.7,1.0,0.3,1.4,0.7,-0.1,
1.2,0.4,0.8,-0.5,1.0,0.2,1.5,0.6,-0.2,1.1,0.3,0.9,-0.6,1.3,0.5,0.0,1.2,0.7,-0.3,0.9,
0.3,1.4,-0.1,0.8,0.5,1.1,-0.4,0.6,1.3,0.2,0.9,-0.2,1.5,0.4,0.7,-0.6,1.0,0.3,1.2,1.8];
const traceBrownDotted = [0.9,-0.2,0.5,1.3,0.0,0.7,-0.5,1.1,0.3,1.5,-0.1,0.8,0.4,-0.7,1.2,0.2,0.9,-0.3,1.4,0.6,
0.1,1.0,-0.4,0.7,1.6,0.3,-0.2,1.2,0.5,0.0,1.4,-0.6,0.8,0.2,1.1,-0.1,0.6,1.7,0.4,-0.3,
1.0,0.2,1.3,-0.5,0.7,0.4,1.5,-0.2,0.9,0.1,1.2,0.6,-0.4,1.0,0.3,1.6,-0.1,0.8,0.5,1.1,
-0.3,0.7,1.4,0.0,1.0,-0.6,0.6,1.2,0.3,-0.2,1.5,0.8,0.1,1.1,-0.4,0.5,1.3,0.2,0.9,-0.1,
1.2,0.4,-0.3,0.9,1.6,0.1,0.7,-0.5,1.0,0.3,1.4,-0.2,0.6,1.1,0.0,0.8,2.1,0.4,-0.1,1.3,
0.5,-0.4,1.0,0.2,1.5,0.7,-0.1,1.2,0.3,0.9,-0.6,1.1,0.4,1.6,0.0,0.7,1.3,-0.3,0.8,0.2,
1.4,0.1,0.6,-0.2,1.1,0.5,1.7,0.0,0.9,-0.5,1.2,0.3,0.7,1.5,-0.1,1.0,0.4,-0.4,1.3,0.6,
0.0,1.2,0.4,1.6,-0.3,0.8,0.2,1.1,-0.2,1.4,0.6,0.1,1.0,-0.6,0.7,1.3,0.3,0.9,-0.1,1.5,
0.7,-0.2,1.1,0.4,0.9,1.6,0.0,0.6,1.3,-0.4,0.8,0.2,1.2,0.5,-0.3,1.0,0.3,1.4,0.1,0.8,
-0.1,1.3,0.5,1.0,-0.5,0.7,1.5,0.2,0.9,0.4,1.2,-0.2,0.6,1.7,0.3,1.0,-0.3,0.8,1.1,0.4];
const traceRedDotted = [0.3,-0.9,1.1,-0.4,0.6,-1.5,0.0,1.4,-0.7,0.2,-1.2,0.8,-0.2,1.0,-1.0,0.4,-0.5,1.6,-0.3,0.5,
-1.1,0.7,-0.1,1.2,-0.8,0.3,-1.6,0.9,-0.4,0.1,1.3,-0.9,0.5,-0.2,1.8,-0.6,0.0,-1.3,0.8,-0.5,
0.6,-0.3,-1.4,0.9,0.1,-0.7,1.2,-0.1,0.4,-1.1,0.7,-0.5,1.5,0.0,-0.9,0.3,-1.7,0.8,-0.2,1.0,
-0.6,0.2,1.1,-1.0,0.5,-0.3,0.9,-1.4,0.0,0.7,-0.8,1.3,-0.1,0.4,-1.2,0.6,-0.4,1.7,-0.7,0.1,
1.0,-0.5,0.3,-1.3,0.8,-0.1,1.2,-0.9,0.4,-0.3,0.6,-1.5,0.9,0.0,-0.6,1.4,-0.2,0.5,-1.0,0.7,
-0.4,1.1,-0.8,0.2,-1.2,0.6,-0.1,0.9,-0.7,1.5,0.1,-1.1,0.4,-0.3,0.8,-1.6,0.3,1.0,-0.5,0.0,
0.5,-1.0,0.7,3.1,-0.3,0.9,-0.6,0.2,-1.3,1.2,0.0,-0.8,0.6,-0.2,1.4,-1.1,0.3,-0.5,0.8,-0.9,
0.1,1.3,-0.7,0.4,-0.1,-1.4,0.9,0.2,-0.5,1.1,-0.9,0.6,-0.3,1.6,-1.2,0.0,0.7,-0.6,1.0,-0.2,
-1.0,0.5,-0.4,1.2,0.0,-0.8,0.8,-1.5,0.3,-0.2,1.0,-0.6,0.4,-1.1,1.3,-0.1,0.6,-0.9,0.2,1.7,
-0.3,0.8,-1.2,0.1,0.9,-0.6,0.4,-1.0,1.1,-0.4,0.2,-1.3,0.7,0.0,-0.7,1.2,-0.2,0.5,-0.9,0.6];
const traceRedSolid = [-0.5,0.4,-1.3,0.1,-0.8,1.0,-0.2,-1.6,0.6,-0.4,0.9,-1.1,0.2,-0.7,1.3,-0.3,-1.4,0.5,-0.9,0.0,
0.7,-1.2,-0.1,0.8,-0.6,-1.8,0.3,-0.3,1.1,-1.0,0.0,-0.5,1.4,-1.3,0.4,-0.8,0.2,-2.0,0.9,-0.4,
-0.2,-1.1,0.6,-0.7,1.2,-0.3,-1.5,0.4,-0.9,0.1,0.8,-1.2,-0.4,1.0,-0.6,-1.7,0.3,-0.1,0.7,-1.0,
0.5,-0.5,-1.4,0.2,1.1,-0.8,0.0,-1.9,0.6,-0.3,-1.0,0.9,-0.6,0.3,-1.3,1.2,-0.2,-0.9,0.4,-1.6,
-0.1,0.8,-0.7,-1.2,0.5,-0.4,1.0,-1.0,0.2,-0.6,1.3,-1.5,0.0,-0.3,0.7,-1.1,3.0,-0.5,0.4,-0.8,
-1.4,0.6,-0.2,0.9,-0.9,-0.1,1.2,-1.3,0.3,-0.7,0.5,-2.1,0.1,-0.4,1.0,-1.0,-0.2,0.8,-1.5,0.2,
-0.6,1.1,-0.3,-1.1,0.4,-0.8,0.9,-0.1,-1.6,0.6,-0.5,1.3,-1.2,0.0,-0.7,0.5,-1.9,0.7,-0.2,-1.0,
0.3,-0.4,1.0,-1.4,-0.1,0.6,-0.9,1.4,-0.6,-1.2,0.2,-0.3,0.8,-1.7,0.1,-0.8,1.1,-0.5,0.4,-1.1,
0.9,-0.7,-0.2,0.5,-1.3,-3.8,0.3,-0.6,1.2,-1.0,-0.1,0.7,-1.5,0.4,-0.4,1.0,-0.9,0.2,-1.8,0.6,
-0.3,-1.1,0.8,-0.5,0.1,-1.4,1.3,-0.8,-0.2,0.6,-1.2,0.3,-0.6,1.1,-1.6,-0.1,0.5,-0.9,0.9,-0.4];
const tracePinkDotted = [-0.9,0.3,-0.5,-1.4,0.6,-0.2,-1.0,0.1,-0.7,0.9,-1.3,-0.4,0.4,-0.8,-1.6,0.0,-0.3,0.7,-1.1,-0.6,
0.2,-1.2,-0.1,0.5,-0.9,-1.5,0.3,-0.4,-0.8,1.0,-0.6,-1.3,0.1,-0.2,-1.0,0.6,-0.7,-1.8,0.4,-0.3,
-1.1,0.0,-0.6,0.8,-1.4,-0.3,0.2,-0.9,-0.5,0.5,-1.7,-0.1,0.4,-1.2,-0.7,0.9,-0.4,-1.0,0.1,-0.8,
-0.2,-1.5,0.6,-0.7,0.0,-1.1,-0.4,0.7,-1.3,-0.6,0.3,-0.9,-0.1,-1.6,0.5,-0.5,-1.0,0.2,-0.3,-1.4,
0.4,-0.8,-0.2,-1.2,0.8,-0.5,-1.5,0.1,-0.7,-0.3,0.6,-1.1,0.0,-0.9,-1.8,0.3,-0.4,-0.6,1.1,-1.0,
-0.5,0.1,-1.3,-0.2,0.5,-0.8,-1.0,0.7,-0.6,-1.6,0.2,-0.3,-0.9,0.4,-1.2,-0.1,0.9,-0.7,-1.4,0.0,
-0.4,-1.1,0.3,-0.6,-1.9,0.6,-0.2,-0.8,0.1,-1.3,-0.5,0.8,-1.0,-0.3,0.2,-1.5,-0.7,0.5,-0.1,-1.2,
0.7,-0.6,-1.4,0.0,-0.4,-0.9,0.4,-1.2,-0.2,0.6,-1.7,-0.5,0.1,-0.8,1.0,-1.1,-0.3,-0.7,0.3,-1.5,
-0.1,0.5,-1.0,-0.6,-0.2,-1.4,0.7,-0.5,-0.9,0.2,-1.2,-0.4,0.6,-1.6,-0.1,-0.8,0.3,-1.3,-0.6,0.4,
-1.0,-0.3,0.5,-1.5,-0.7,0.1,-0.5,-1.1,0.8,-0.4,-1.3,0.0,-0.8,0.4,-0.2,-1.7,-0.6,0.2,-0.9,-0.3];
const tracePinkSolid = [0.1,-0.8,-0.2,0.7,-1.3,-0.5,0.3,-1.0,0.5,-0.1,-1.5,0.2,-0.6,0.9,-0.9,-0.3,0.4,-1.2,0.0,-0.7,
1.2,-0.4,-1.1,0.2,-0.6,0.6,-1.4,-0.2,0.4,-0.9,0.0,-1.7,0.5,-0.3,0.8,-1.0,-0.5,0.3,-1.2,-0.1,
-0.6,0.5,-1.0,-0.2,1.0,-0.8,0.1,-1.3,-0.4,0.6,-0.7,0.2,-1.6,0.0,-0.5,0.9,-1.1,-0.3,0.4,-0.9,
0.3,-1.2,-0.4,0.7,-0.8,0.0,-1.5,0.4,-0.2,-1.0,0.8,-0.6,0.1,-1.3,-0.1,0.5,-0.9,-0.4,1.1,-0.7,
-1.1,0.2,-0.5,0.6,-1.4,-0.2,0.4,-0.8,0.0,-1.9,0.3,-0.6,0.7,-1.0,-0.3,0.2,-1.2,0.5,-0.7,-0.1,
0.6,-0.9,-0.3,0.1,-1.3,0.8,-0.5,-1.0,0.3,-0.2,-1.6,0.4,-0.8,0.0,0.9,-1.1,-0.4,0.2,-0.6,-1.4,
0.0,-0.6,0.5,-1.2,-0.1,0.7,-0.9,-0.3,0.3,-1.5,-0.4,0.6,-1.0,0.1,-0.7,-0.2,1.0,-1.3,-0.5,0.4,
-3.8,-0.6,0.2,-1.1,-0.3,0.5,-0.8,0.0,-1.4,0.3,-0.5,0.8,-1.0,-0.2,0.4,-1.7,-0.4,0.1,-0.9,0.6,
-0.2,-1.1,0.4,-0.6,0.9,-1.3,-0.1,0.2,-0.8,0.6,-1.5,-0.3,0.3,-0.9,0.0,-1.2,0.7,-0.5,-0.1,-1.0,
0.5,-0.7,-0.2,-1.4,0.3,-0.4,0.8,-1.1,0.1,-0.6,-0.1,-1.6,0.6,-0.3,-0.8,0.2,-1.2,0.4,-0.5,0.0];

// drawing order of the chains (colour = palette index; dotted = second chain)
const traceSeries = [
  {values: traceGreyDotted, color: 7, dotted: true},
  {values: traceGreySolid, color: 7, dotted: false},
  {values: traceOliveDotted, color: 8, dotted: true},
  {values: traceBlueSolid, color: 0, dotted: false},
  {values: traceBlueDotted, color: 0, dotted: true},
  {values: traceOrangeSolid, color: 1, dotted: false},
  {values: traceOrangeDotted, color: 1, dotted: true},
  {values: tracePurpleSolid, color: 4, dotted: false},
  {values: tracePurpleDotted, color: 4, dotted: true},
  {values: traceCyanDotted, color: 9, dotted: true},
  {values: traceCyanSolid, color: 9, dotted: false},
  {values: traceGreenSolid, color: 2, dotted: false},
  {values: traceGreenDotted, color: 2, dotted: true},
  {values: traceBrownSolid, color: 5, dotted: false},
  {values: traceBrownDotted, color: 5, dotted: true},
  {values: traceRedDotted, color: 3, dotted: true},
  {values: traceRedSolid, color: 3, dotted: false},
  {values: tracePinkDotted, color: 6, dotted: true},
  {values: tracePinkSolid, color: 6, dotted: false}
];

const FONT = '"Noto Sans CJK JP", "Noto Sans", sans-serif';
const series = [];
kdeX.forEach((xs, i) => {
  const c = palette[kdeColor[i]];
  [[kdeSolid[i], 'solid'], [kdeDotted[i], [2.5, 4]]].forEach(([ys, lt]) => {
    series.push({
      type: 'line', xAxisIndex: 0, yAxisIndex: 0, silent: true,
      data: xs.map((x, j) => [x, ys[j]]),
      smooth: 0.3, symbol: 'none', showSymbol: false, connectNulls: false,
      lineStyle: {color: c, width: 2.5, type: lt}
    });
  });
});
traceSeries.forEach((t, k) => {
  series.push({
    type: 'line', xAxisIndex: 1, yAxisIndex: 1, silent: true,
    data: t.values.map((v, i) => [i * traceStep + (k % traceStep), v]),
    symbol: 'none', showSymbol: false,
    lineStyle: {color: palette[t.color], width: 2.6, opacity: 0.5, type: t.dotted ? [2.5, 3] : 'solid'}
  });
});

const axisTickStyle = {show: true, length: 9, lineStyle: {color: '#000', width: 2}};
const chart = echarts.init(document.getElementById('c'), null, {renderer: 'canvas'});
chart.setOption({
  animation: false,
  backgroundColor: '#fff',
  graphic: [
    {type: 'text', x: 562, y: 27, style: {text: panelTitle, font: '33px ' + FONT, fill: '#000', align: 'center', verticalAlign: 'middle'}},
    {type: 'text', x: 1723, y: 27, style: {text: panelTitle, font: '33px ' + FONT, fill: '#000', align: 'center', verticalAlign: 'middle'}}
  ],
  grid: [
    {left: 19, top: 57, width: 1087, height: 240, show: true, borderColor: '#000', borderWidth: 2, backgroundColor: 'transparent'},
    {left: 1180, top: 57, width: 1086, height: 240, show: true, borderColor: '#000', borderWidth: 2, backgroundColor: 'transparent'}
  ],
  xAxis: [
    {type: 'value', gridIndex: 0, min: -4.98, max: 3.66, splitLine: {show: false},
     axisLine: {show: false, onZero: false},
     axisTick: Object.assign({customValues: kdeTicks}, axisTickStyle),
     axisLabel: {customValues: kdeTicks, fontSize: 33, color: '#000', margin: 22, fontFamily: FONT, formatter: v => String(v)}},
    {type: 'value', gridIndex: 1, min: 0, max: 999, splitLine: {show: false},
     axisLine: {show: false, onZero: false},
     axisTick: Object.assign({customValues: traceXTicks}, axisTickStyle),
     axisLabel: {customValues: traceXTicks, fontSize: 33, color: '#000', margin: 22, fontFamily: FONT, formatter: v => String(v)}}
  ],
  yAxis: [
    {type: 'value', gridIndex: 0, min: -0.15, max: 3.15, show: false, splitLine: {show: false}},
    {type: 'value', gridIndex: 1, min: -4.95, max: 3.65, splitLine: {show: false},
     axisLine: {show: false, onZero: false},
     axisTick: Object.assign({customValues: traceYTicks}, axisTickStyle),
     axisLabel: {customValues: traceYTicks, fontSize: 33, color: '#000', margin: 20, fontFamily: FONT, formatter: v => v.toFixed(1)}}
  ],
  series: series
});
</script>
</body></html>
